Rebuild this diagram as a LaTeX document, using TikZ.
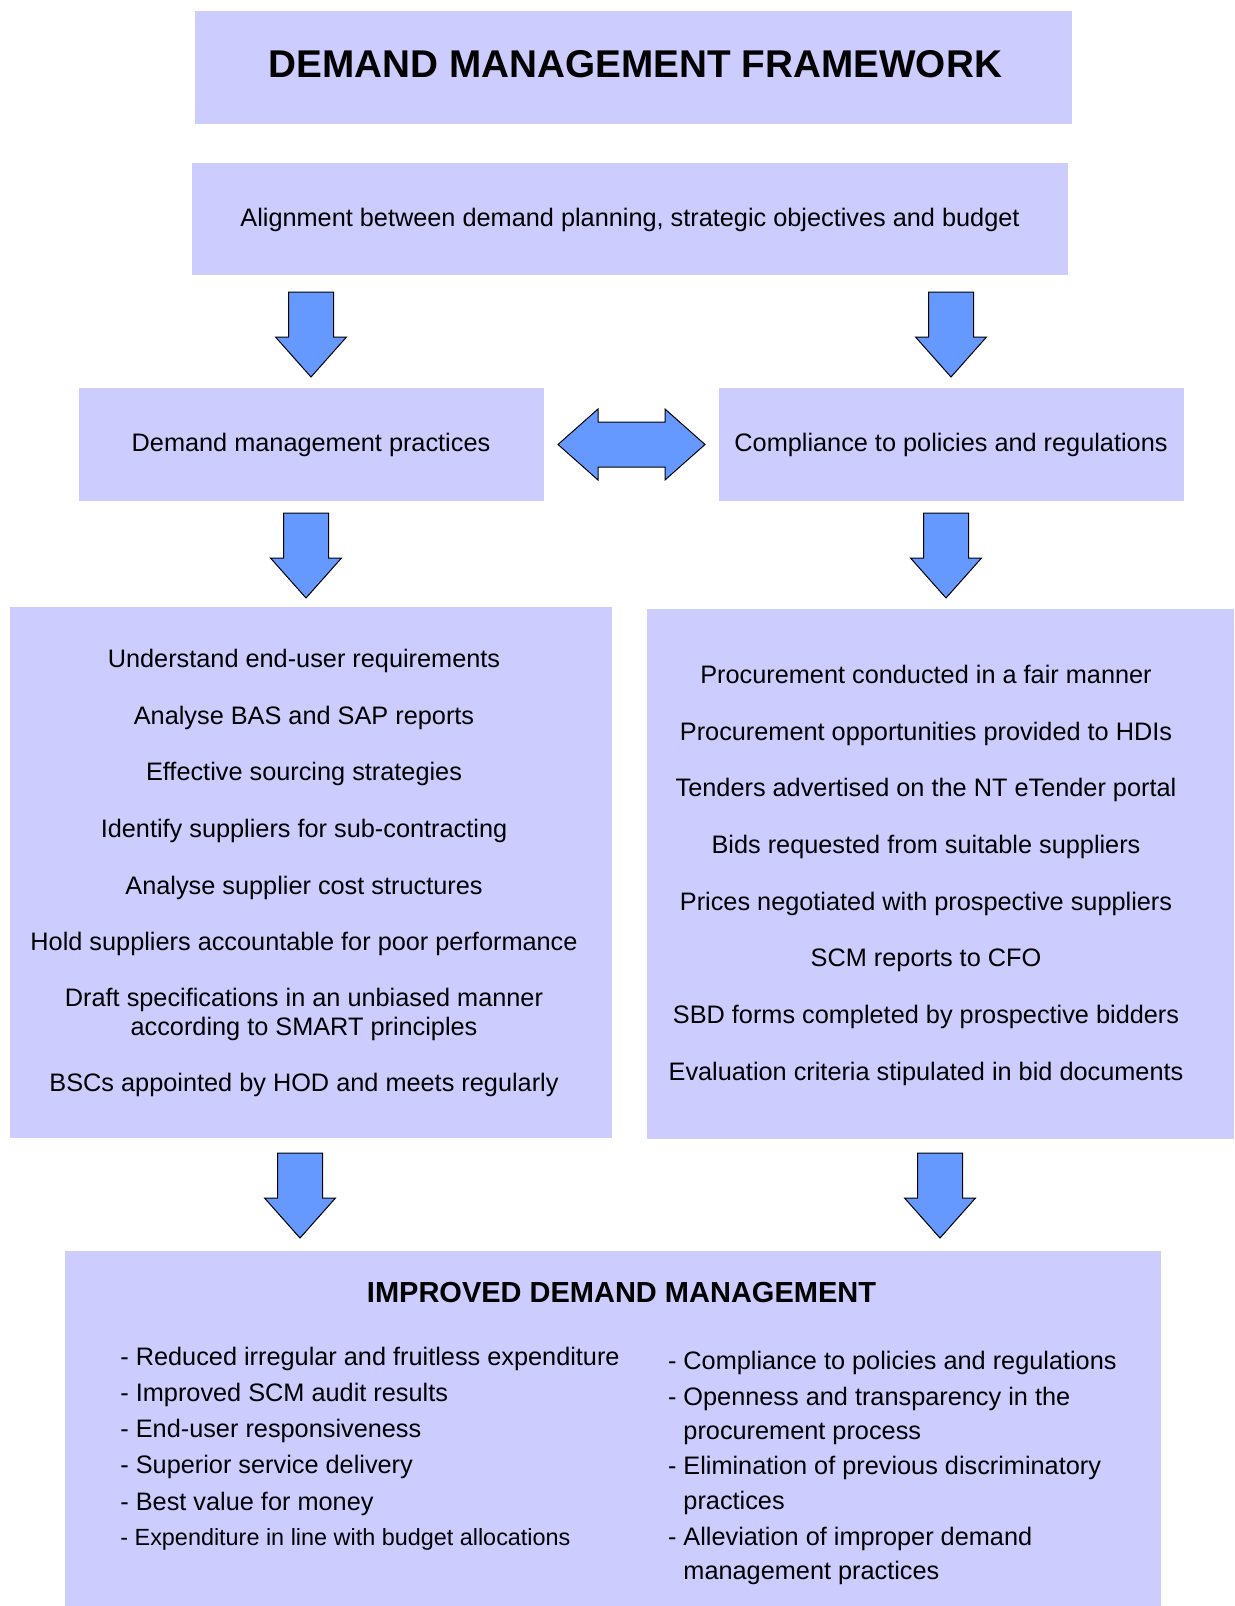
\documentclass[tikz,border=0pt]{standalone}
\usepackage{fontspec}
\setmainfont{Liberation Sans}
\definecolor{boxfill}{HTML}{CCCCFF}
\definecolor{arrfill}{HTML}{6699FF}
\newcommand\dmbody{\fontsize{12.65pt}{14.4pt}\selectfont}
\newcommand\dmsmall{\fontsize{11.7pt}{14pt}\selectfont}
\newcommand\dmtitle{\fontsize{19.35pt}{22pt}\selectfont\bfseries}
\newcommand\dmhead{\fontsize{14.5pt}{17pt}\selectfont\bfseries}
\tikzset{
  box/.style={fill=boxfill, draw=none, inner sep=0pt},
  txt/.style={font=\dmbody, inner sep=0pt, anchor=base},
  ltxt/.style={font=\dmbody, inner sep=0pt, anchor=base west},
  blockarrow/.style={fill=arrfill, draw=black, line width=0.5pt, line join=miter},
  downarr/.pic={\draw[blockarrow] (-22.5,0) -- (22.5,0) -- (22.5,45) -- (35.5,45) -- (0,85) -- (-35.5,45) -- (-22.5,45) -- cycle;},
  bothway/.pic={\draw[blockarrow] (-73.5,0) -- (-33.5,-35.5) -- (-33.5,-22.5) -- (33.5,-22.5) -- (33.5,-35.5) -- (73.5,0) -- (33.5,35.5) -- (33.5,22.5) -- (-33.5,22.5) -- (-33.5,35.5) -- cycle;}
}
\begin{document}
\begin{tikzpicture}[x=0.5pt,y=-0.5pt]
\useasboundingbox (0,0) rectangle (1235,1606);
\fill[white] (0,0) rectangle (1235,1606);
% boxes
\node[box, minimum width=438.7pt, minimum height=56.35pt] (title) at (633.3,67.6) {};
\node[box, minimum width=438.25pt, minimum height=56.25pt] (align) at (629.8,219.2) {};
\node[box, minimum width=232.5pt, minimum height=56.5pt] (dmp) at (311.5,444.5) {};
\node[box, minimum width=232.5pt, minimum height=56.5pt] (comp) at (951.5,444.5) {};
\node[box, minimum width=301pt, minimum height=265.5pt] (lbig) at (311,872.5) {};
\node[box, minimum width=293.5pt, minimum height=265pt] (rbig) at (940.5,874) {};
\node[box, minimum width=548.25pt, minimum height=177.5pt] (result) at (612.75,1428.5) {};
% texts
\node[txt, font=\dmtitle] (titletxt) at (635.5,77.5) {DEMAND MANAGEMENT FRAMEWORK};
\node[txt] (aligntxt) at (630,226) {Alignment between demand planning, strategic objectives and budget};
\node[txt] (dmptxt) at (311,451) {Demand management practices};
\node[txt] (comptxt) at (951,451) {Compliance to policies and regulations};
% left list
\node[txt] (l1) at (304,667.5) {Understand end-user requirements};
\node[txt] (l2) at (304,724) {Analyse BAS and SAP reports};
\node[txt] (l3) at (304,780) {Effective sourcing strategies};
\node[txt] (l4) at (304,837) {Identify suppliers for sub-contracting};
\node[txt] (l5) at (304,894) {Analyse supplier cost structures};
\node[txt] (l6) at (304,950) {Hold suppliers accountable for poor performance};
\node[txt] (l7a) at (304,1006.5) {Draft specifications in an unbiased manner};
\node[txt] (l7b) at (304,1035) {according to SMART principles};
\node[txt] (l8) at (304,1091.5) {BSCs appointed by HOD and meets regularly};
% right list
\node[txt] (r1) at (926,683) {Procurement conducted in a fair manner};
\node[txt] (r2) at (926,740) {Procurement opportunities provided to HDIs};
\node[txt] (r3) at (926,796.5) {Tenders advertised on the NT eTender portal};
\node[txt] (r4) at (926,853) {Bids requested from suitable suppliers};
\node[txt] (r5) at (926,910) {Prices negotiated with prospective suppliers};
\node[txt] (r6) at (926,966) {SCM reports to CFO};
\node[txt] (r7) at (926,1023) {SBD forms completed by prospective bidders};
\node[txt] (r8) at (926,1080) {Evaluation criteria stipulated in bid documents};
% result
\node[txt, font=\dmhead] (head) at (621.5,1302) {IMPROVED DEMAND MANAGEMENT};
\node[ltxt] (b1) at (120,1365) {- Reduced irregular and fruitless expenditure};
\node[ltxt] (b2) at (120,1401.6) {- Improved SCM audit results};
\node[ltxt] (b3) at (120,1437.5) {- End-user responsiveness};
\node[ltxt] (b4) at (120,1473) {- Superior service delivery};
\node[ltxt] (b5) at (120,1510) {- Best value for money};
\node[ltxt, font=\dmsmall] (b6) at (120,1545) {- Expenditure in line with budget allocations};
\node[ltxt] (c1) at (667.6,1369) {- Compliance to policies and regulations};
\node[ltxt] (c2) at (667.6,1405) {- Openness and transparency in the};
\node[ltxt] (c2b) at (667.6,1439.5) {\phantom{- }procurement process};
\node[ltxt] (c3) at (667.6,1474.5) {- Elimination of previous discriminatory};
\node[ltxt] (c3b) at (667.6,1509) {\phantom{- }practices};
\node[ltxt] (c4) at (667.6,1545) {- Alleviation of improper demand};
\node[ltxt] (c4b) at (667.6,1579) {\phantom{- }management practices};
% arrows
\pic (a1) at (311,292) {downarr};
\pic (a2) at (951,292) {downarr};
\pic (a3) at (306,513) {downarr};
\pic (a4) at (946,513) {downarr};
\pic (a5) at (300,1153) {downarr};
\pic (a6) at (940,1153) {downarr};
\pic (a7) at (631.5,444.5) {bothway};
\end{tikzpicture}
\end{document}
